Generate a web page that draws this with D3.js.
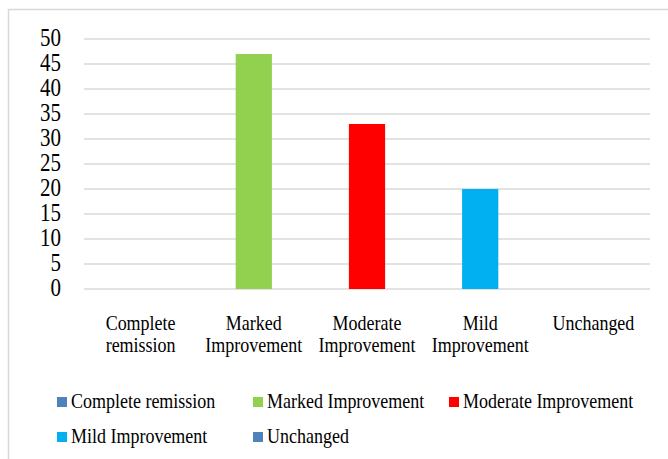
<!DOCTYPE html>
<html>
<head>
<meta charset="utf-8">
<script src="https://cdn.jsdelivr.net/npm/d3@7"></script>
<style>
  html, body { margin: 0; padding: 0; background: #fff; }
  svg { display: block; }
</style>
</head>
<body>
<svg id="chart" width="668" height="459"></svg>
<script>
// Outcome categories and the percentage of patients in each
const categories = ["Complete remission", "Marked Improvement", "Moderate Improvement", "Mild Improvement", "Unchanged"];
const categoryLines = [["Complete", "remission"], ["Marked", "Improvement"], ["Moderate", "Improvement"], ["Mild", "Improvement"], ["Unchanged"]];
const values = [0, 47, 33, 20, 0];
const colors = ["#4f81bd", "#92d050", "#ff0000", "#00b0f0", "#4f81bd"];
const yTicks = [0, 5, 10, 15, 20, 25, 30, 35, 40, 45, 50];

const FONT = "'Times New Roman', 'Liberation Serif', Times, 'DejaVu Serif', serif";

const svg = d3.select("#chart")
  .attr("font-family", FONT)
  .style("font-family", FONT);
const stretch = 1.15; // tall, narrow serif glyphs

// Outer frame (runs past the right and bottom edges)
svg.append("rect")
  .attr("x", 8.5).attr("y", 9.5)
  .attr("width", 700).attr("height", 500)
  .attr("fill", "none")
  .attr("stroke", "#d9d9d9")
  .attr("stroke-width", 1.5);

const plot = { left: 84, right: 650, top: 39, bottom: 289 };

const x = d3.scaleBand()
  .domain(categories)
  .range([plot.left, plot.right])
  .paddingInner(0).paddingOuter(0);

const y = d3.scaleLinear()
  .domain([0, 50])
  .range([plot.bottom, plot.top]);

const barWidth = x.step() * 0.32;

// Horizontal gridlines
svg.append("g")
  .selectAll("line")
  .data(yTicks)
  .join("line")
  .attr("x1", plot.left).attr("x2", plot.right)
  .attr("y1", d => y(d)).attr("y2", d => y(d))
  .attr("stroke", "#d9d9d9")
  .attr("stroke-width", 1.5);

// Y axis labels
svg.append("g")
  .selectAll("text")
  .data(yTicks)
  .join("text")
  .attr("text-anchor", "end")
  .attr("font-family", FONT)
  .attr("font-size", 21)
  .attr("fill", "#000")
  .attr("transform", d => `translate(61,${y(d) + 6.8}) scale(1,${stretch})`)
  .text(d => d);

// Bars
svg.append("g")
  .selectAll("rect")
  .data(categories.map((c, i) => ({ c, v: values[i], col: colors[i] })))
  .join("rect")
  .attr("x", d => x(d.c) + x.bandwidth() / 2 - barWidth / 2)
  .attr("width", barWidth)
  .attr("y", d => y(d.v))
  .attr("height", d => y(0) - y(d.v))
  .attr("fill", d => d.col);

// Category labels (wrapped onto two lines)
const catG = svg.append("g");
categories.forEach((c, i) => {
  categoryLines[i].forEach((line, j) => {
    catG.append("text")
      .attr("text-anchor", "middle")
      .attr("font-family", FONT)
      .attr("font-size", 18)
      .attr("fill", "#000")
      .attr("transform", `translate(${x(c) + x.bandwidth() / 2},${330 + j * 22}) scale(1,${stretch})`)
      .text(line);
  });
});

// Legend
const legendPos = [
  { x: 57, y: 402 }, { x: 253, y: 402 }, { x: 449, y: 402 },
  { x: 57, y: 437 }, { x: 253, y: 437 }
];
const legend = svg.append("g")
  .selectAll("g")
  .data(categories.map((c, i) => ({ c, col: colors[i], p: legendPos[i] })))
  .join("g")
  .attr("transform", d => `translate(${d.p.x},${d.p.y})`);

legend.append("rect")
  .attr("x", 0).attr("y", -5)
  .attr("width", 10).attr("height", 10)
  .attr("fill", d => d.col);

legend.append("text")
  .attr("font-family", FONT)
  .attr("font-size", 18)
  .attr("fill", "#000")
  .attr("transform", `translate(14,6) scale(1,${stretch})`)
  .text(d => d.c);
</script>
</body>
</html>
